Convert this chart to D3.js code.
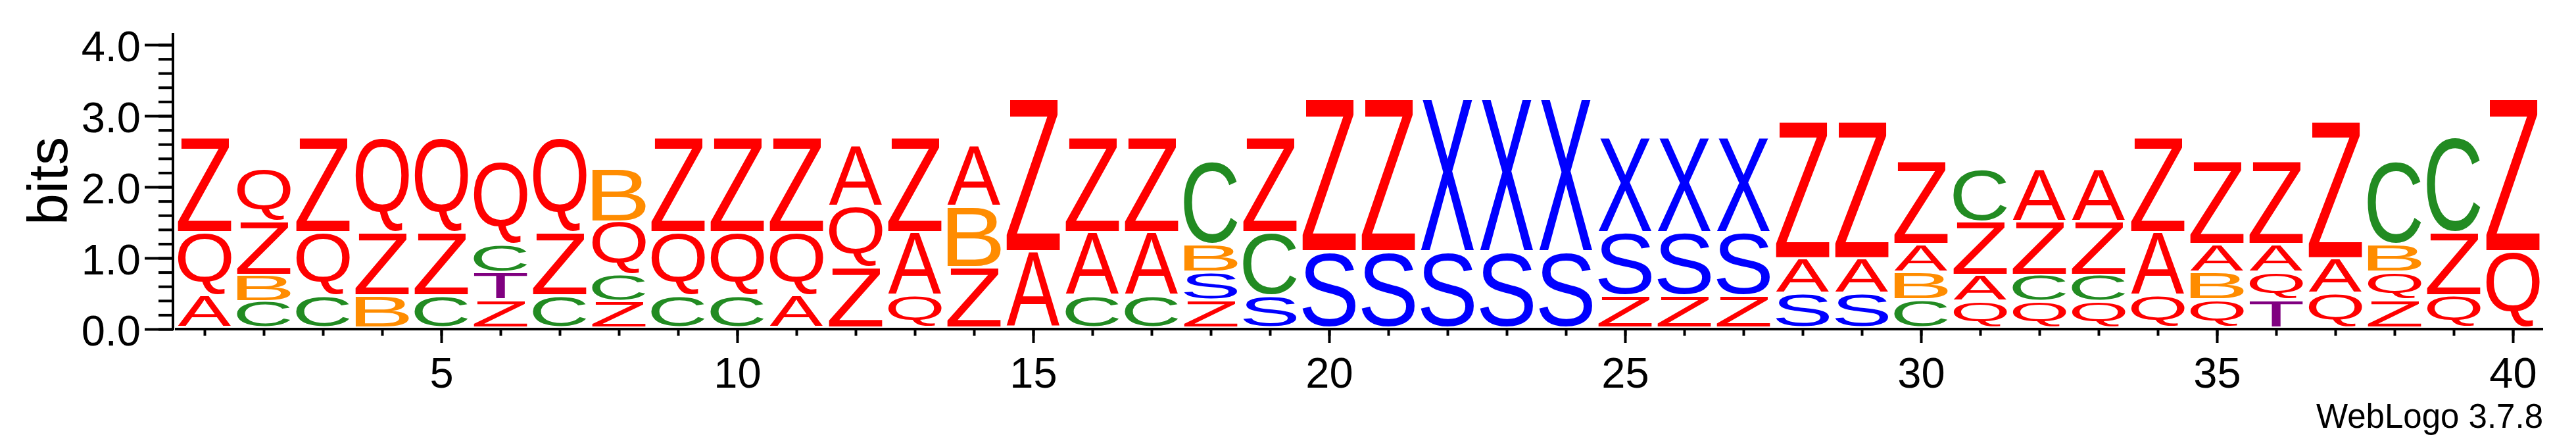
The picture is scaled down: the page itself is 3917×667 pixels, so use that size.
<!DOCTYPE html>
<html>
<head>
<meta charset="utf-8">
<script src="https://cdn.jsdelivr.net/npm/d3@7"></script>
<style>
  html, body { margin: 0; padding: 0; background: #fff; }
  svg { display: block; }
</style>
</head>
<body>
<svg id="logo"></svg>
<script>
// sequence positions and the letters stacked at each one (bottom -> top)
const positions = d3.range(1, 41);
const letters = [
  "AQZ", "CBZQ", "CQZ", "BZQ", "CZQ", "ZTCQ", "CZQ", "ZCQB", "CQZ", "CQZ",
  "AQZ", "ZQA", "QAZ", "ZBA", "AZ", "CAZ", "CAZ", "ZSBC", "SCZ", "SZ",
  "SZ", "SX", "SX", "SX", "ZSX", "ZSX", "ZSX", "SAZ", "SAZ", "CBAZ",
  "QAZC", "QCZA", "QCZA", "QAZ", "QBAZ", "TQAZ", "QAZ", "ZQBC", "QZC", "QZ"
];
// letter heights in bits, same order as above
const heights = [
  [0.45, 0.89, 1.34], [0.37, 0.37, 0.75, 0.74], [0.45, 0.89, 1.34], [0.45, 0.89, 1.34],
  [0.45, 0.89, 1.34], [0.39, 0.39, 0.39, 1.17], [0.45, 0.89, 1.34], [0.37, 0.37, 0.75, 0.74],
  [0.45, 0.89, 1.34], [0.45, 0.89, 1.34], [0.45, 0.89, 1.34], [0.85, 0.85, 0.86],
  [0.45, 0.89, 1.34], [0.85, 0.85, 0.86], [1.07, 2.15], [0.45, 0.89, 1.34],
  [0.45, 0.89, 1.34], [0.39, 0.39, 0.39, 1.17], [0.45, 0.89, 1.34], [1.07, 2.15],
  [1.07, 2.15], [1.07, 2.15], [1.07, 2.15], [1.07, 2.15],
  [0.45, 0.89, 1.34], [0.45, 0.89, 1.34], [0.45, 0.89, 1.34], [0.48, 0.49, 1.93],
  [0.48, 0.49, 1.93], [0.39, 0.39, 0.39, 1.17], [0.37, 0.37, 0.75, 0.74], [0.37, 0.37, 0.75, 0.74],
  [0.37, 0.37, 0.75, 0.74], [0.45, 0.89, 1.34], [0.39, 0.39, 0.39, 1.17], [0.39, 0.39, 0.39, 1.17],
  [0.48, 0.49, 1.93], [0.39, 0.39, 0.39, 1.17], [0.45, 0.89, 1.34], [1.07, 2.15]
];
const xTickValues = [5, 10, 15, 20, 25, 30, 35, 40];
const yTickValues = [0, 1, 2, 3, 4];
const yMinorTicks = [0, 0.2, 0.4, 0.6, 0.8, 1, 1.2, 1.4, 1.6, 1.8, 2, 2.2, 2.4, 2.6, 2.8, 3, 3.2, 3.4, 3.6, 3.8, 4];

const colors = {
  A: "#ff0000", Q: "#ff0000", Z: "#ff0000",
  B: "#ff8c00", C: "#228b22", S: "#0000ff", X: "#0000ff", T: "#800080"
};

const width = 3917, height = 667;
const FONT = "'Liberation Sans', Arial, Helvetica, sans-serif";

const x = d3.scaleLinear().domain([0.5, 40.5]).range([266, 3866]);
const y = d3.scaleLinear().domain([0, 4]).range([500, 68]);
const glyphW = 81;

const svg = d3.select("#logo")
  .attr("width", width)
  .attr("height", height)
  .attr("viewBox", [0, 0, width, height]);

// tight ink box of each glyph, so letters can be stretched to fill their slot
const FS = 200;
const ctx = document.createElement("canvas").getContext("2d");
ctx.font = `${FS}px ${FONT}`;
const inkBox = {};
function ink(ch) {
  if (!inkBox[ch]) {
    const m = ctx.measureText(ch);
    inkBox[ch] = {
      l: -m.actualBoundingBoxLeft, r: m.actualBoundingBoxRight,
      t: -m.actualBoundingBoxAscent, b: m.actualBoundingBoxDescent
    };
  }
  return inkBox[ch];
}

// flatten stacks into one row per letter
const glyphs = [];
positions.forEach((p, i) => {
  let acc = 0;
  letters[i].split("").forEach((ch, j) => {
    const h = heights[i][j];
    glyphs.push({ pos: p, ch, y0: acc, y1: acc + h });
    acc += h;
  });
});

svg.append("g")
  .selectAll("text")
  .data(glyphs)
  .join("text")
  .attr("font-family", FONT)
  .attr("font-size", FS)
  .attr("fill", d => colors[d.ch])
  .attr("transform", d => {
    const g = ink(d.ch);
    const top = y(d.y1) - 2 + 1;
    const bot = y(d.y0) - 2 - 2.5;
    const sx = glyphW / (g.r - g.l);
    const sy = (bot - top) / (g.b - g.t);
    const x0 = x(d.pos) - glyphW / 2;
    return `translate(${x0 - g.l * sx},${top - g.t * sy}) scale(${sx},${sy})`;
  })
  .text(d => d.ch);

// x-axis: minor ticks at every position, longer labelled ticks every 5
svg.append("g")
  .attr("transform", `translate(0,${y(0)})`)
  .call(d3.axisBottom(x).tickValues(positions).tickSize(10).tickFormat(""))
  .call(g => g.select(".domain").remove());

svg.append("g")
  .attr("transform", `translate(0,${y(0)})`)
  .call(d3.axisBottom(x).tickValues(xTickValues).tickSize(21).tickPadding(22))
  .call(g => g.select(".domain").remove())
  .call(g => g.selectAll("text").attr("font-size", 65).attr("font-family", FONT));

svg.append("line")
  .attr("x1", 266).attr("x2", 3867)
  .attr("y1", y(0)).attr("y2", y(0))
  .attr("stroke", "#000").attr("stroke-width", 4);

// y-axis
const yAxisX = 263;
svg.append("g")
  .attr("transform", `translate(${yAxisX},0)`)
  .call(d3.axisLeft(y).tickValues(yMinorTicks).tickSize(22).tickFormat(""))
  .call(g => g.select(".domain").remove());

svg.append("g")
  .attr("transform", `translate(${yAxisX},0)`)
  .call(d3.axisLeft(y).tickValues(yTickValues).tickSize(43).tickPadding(6).tickFormat(d3.format(".1f")))
  .call(g => g.select(".domain").remove())
  .call(g => g.selectAll("text").attr("font-size", 65).attr("font-family", FONT).attr("dy", "0.37em"));

svg.append("line")
  .attr("x1", yAxisX).attr("x2", yAxisX)
  .attr("y1", 50).attr("y2", y(0) + 2)
  .attr("stroke", "#000").attr("stroke-width", 4);

svg.selectAll(".tick line").attr("stroke-width", 4);

svg.append("text")
  .attr("transform", `translate(102,275) rotate(-90)`)
  .attr("text-anchor", "middle")
  .attr("font-family", FONT)
  .attr("font-size", 86)
  .text("bits");

svg.append("text")
  .attr("x", 3867)
  .attr("y", 650)
  .attr("text-anchor", "end")
  .attr("font-family", FONT)
  .attr("font-size", 51)
  .text("WebLogo 3.7.8");
</script>
</body>
</html>
